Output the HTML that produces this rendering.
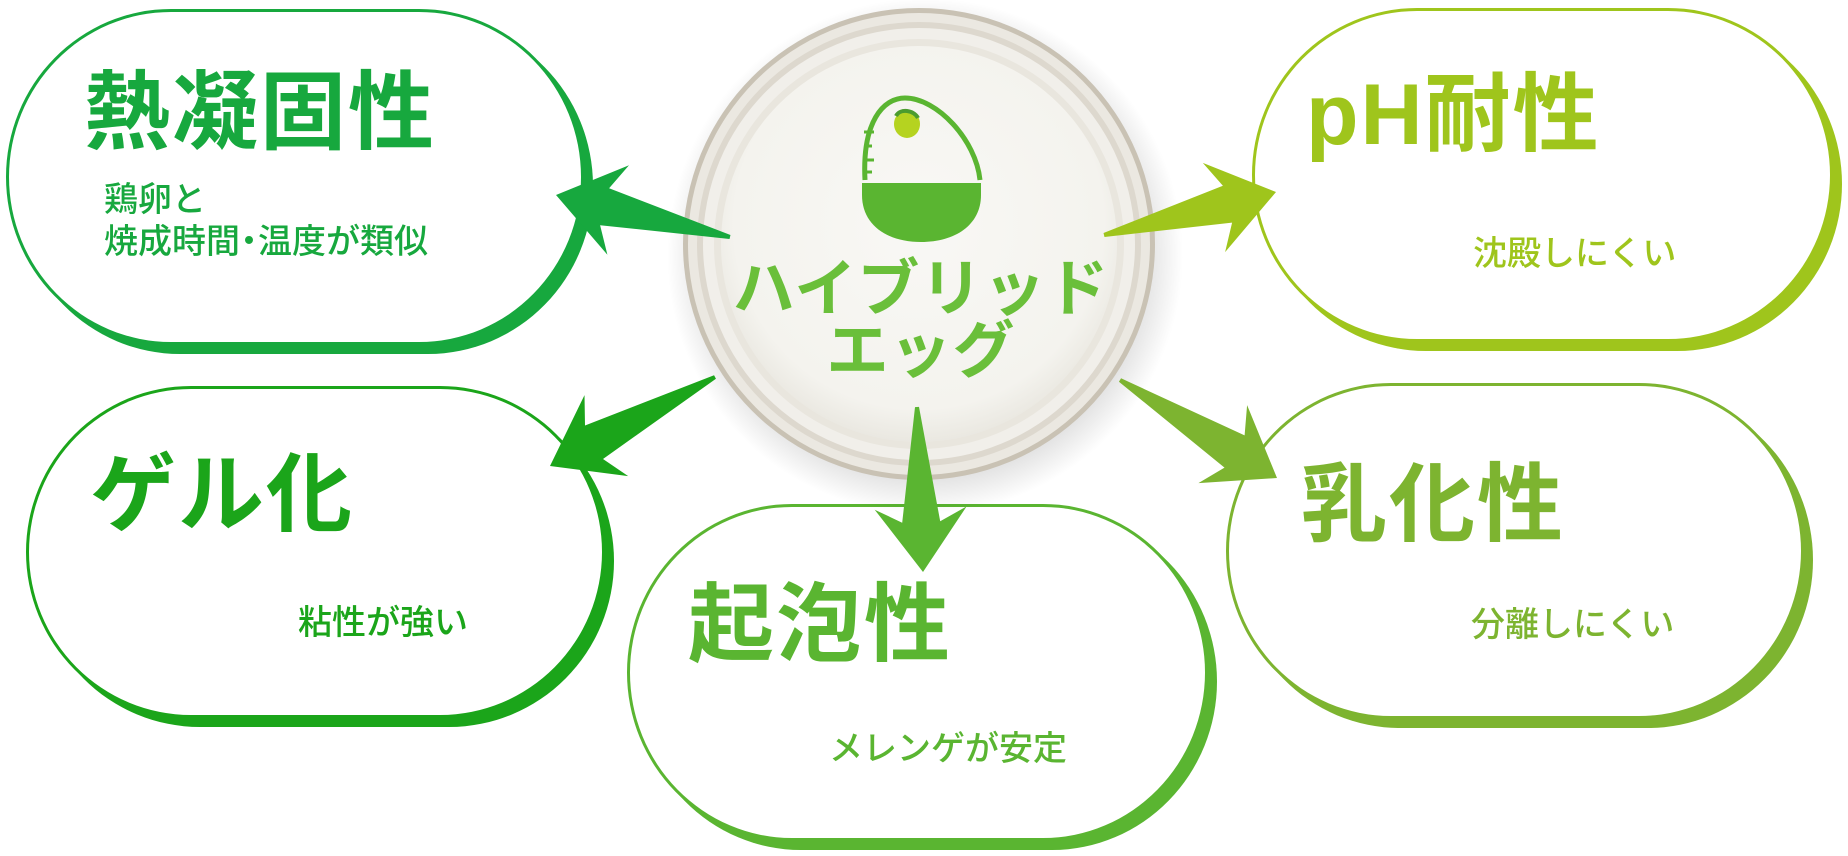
<!DOCTYPE html>
<html><head><meta charset="utf-8"><style>
html,body{margin:0;padding:0;background:#fff}
body{width:1848px;height:856px;position:relative;overflow:hidden;font-family:"Liberation Sans","Noto Sans CJK JP",sans-serif}
.box{position:absolute;background:#fff;border:3px solid;border-radius:165px/50%;box-sizing:border-box}
.t{position:absolute;font-weight:700;white-space:nowrap;line-height:1}
.title{font-size:86px;letter-spacing:2px}
.sub{font-size:34px;font-weight:500;letter-spacing:0px}
svg{position:absolute;left:0;top:0}
</style></head><body>
<div class="box" style="left:6px;top:9px;width:578px;height:336px;border-color:#17a83e;box-shadow:9px 9px 0 #17a83e"></div>
<div class="box" style="left:26px;top:386px;width:579px;height:332px;border-color:#1ba51a;box-shadow:9px 9px 0 #1ba51a"></div>
<div class="box" style="left:627px;top:504px;width:581px;height:337px;border-color:#5ab531;box-shadow:9px 9px 0 #5ab531"></div>
<div class="box" style="left:1252px;top:8px;width:581px;height:334px;border-color:#9fc51c;box-shadow:9px 9px 0 #9fc51c"></div>
<div class="box" style="left:1226px;top:383px;width:578px;height:336px;border-color:#7db430;box-shadow:9px 9px 0 #7db430"></div>

<div class="t title" style="left:84px;top:70px;color:#17a83e">熱凝固性</div>
<div class="t sub" style="left:104px;top:183px;color:#17a83e">鶏卵と</div>
<div class="t sub" style="left:104px;top:225px;color:#17a83e">焼成時間<span style="margin:0 -8px">・</span>温度が類似</div>
<div class="t title" style="left:90px;top:452px;color:#1ba51a">ゲル化</div>
<div class="t sub" style="left:298px;top:606px;color:#1ba51a">粘性が強い</div>
<div class="t title" style="left:688px;top:582px;color:#5ab531">起泡性</div>
<div class="t sub" style="left:829px;top:732px;color:#5ab531">メレンゲが安定</div>
<div class="t title" style="left:1306px;top:72px;color:#9fc51c">pH耐性</div>
<div class="t sub" style="left:1473px;top:237px;color:#9fc51c">沈殿しにくい</div>
<div class="t title" style="left:1301px;top:462px;color:#7db430">乳化性</div>
<div class="t sub" style="left:1471px;top:608px;color:#7db430">分離しにくい</div>

<svg width="1848" height="856" viewBox="0 0 1848 856">
<defs>
<radialGradient id="sh" cx="50%" cy="50%" r="50%">
<stop offset="80%" stop-color="#000" stop-opacity="0.16"/>
<stop offset="100%" stop-color="#000" stop-opacity="0"/>
</radialGradient>
<radialGradient id="milk" cx="50%" cy="45%" r="55%">
<stop offset="0%" stop-color="#f9f8f5"/>
<stop offset="85%" stop-color="#f4f3ee"/>
<stop offset="100%" stop-color="#eae8e1"/>
</radialGradient>
</defs>
<circle cx="925" cy="256" r="258" fill="url(#sh)"/>
<circle cx="919" cy="244" r="236" fill="#c9c2b4"/>
<circle cx="919" cy="244" r="231" fill="#ebe8e1"/>
<circle cx="919" cy="244" r="222" fill="#ddd8ce"/>
<circle cx="919" cy="244" r="216" fill="#f1efea"/>
<circle cx="919" cy="244" r="205" fill="#e9e6de"/>
<circle cx="919" cy="244" r="198" fill="url(#milk)"/>
<g>
<path d="M865 180 C862 122 883 98 905 98 C937 98 976 140 980 180" fill="none" stroke="#5ab531" stroke-width="5"/>
<path d="M864 132 h10 M864 146 h8 M864 160 h10 M864 172 h8" stroke="#5ab531" stroke-width="3"/>
<ellipse cx="907" cy="124" rx="13" ry="14" fill="#b5d320"/>
<path d="M896 116 C900 108 914 110 918 118" fill="none" stroke="#4b9c2e" stroke-width="4"/>
<path d="M862 183 H981 V195 C981 225 955 242 921 242 C887 242 862 225 862 195 Z" fill="#5ab531"/>
</g>
<g fill="#6abf3a" font-family="'Liberation Sans','Noto Sans CJK JP',sans-serif" font-weight="700" text-anchor="middle">
<text x="921" y="310" font-size="62" letter-spacing="1">ハイブリッド</text>
<text x="921" y="372" font-size="62" letter-spacing="1">エッグ</text>
</g>
<g id="arrows"></g>
</svg>
<script>
function arrow(tx,ty,px,py,col){
 var dx=px-tx,dy=py-ty,L=Math.hypot(dx,dy),ux=dx/L,uy=dy/L,nx=-uy,ny=ux;
 function pt(d,w){return (px-ux*d+nx*w).toFixed(1)+","+(py-uy*d+ny*w).toFixed(1);}
 var pts=[ (tx+nx*2)+","+(ty+ny*2), pt(50,19), pt(64,46), px+","+py, pt(64,-46), pt(50,-19), (tx-nx*2)+","+(ty-ny*2)];
 var p=document.createElementNS("http://www.w3.org/2000/svg","polygon");
 p.setAttribute("points",pts.join(" "));p.setAttribute("fill",col);
 document.getElementById("arrows").appendChild(p);
}
arrow(730,237,556,195,"#17a83e");
arrow(715,377,550,466,"#1ba51a");
arrow(917,407,923,572,"#5ab531");
arrow(1104,235,1276,192,"#9fc51c");
arrow(1120,380,1277,478,"#7db430");
</script>
</body></html>
